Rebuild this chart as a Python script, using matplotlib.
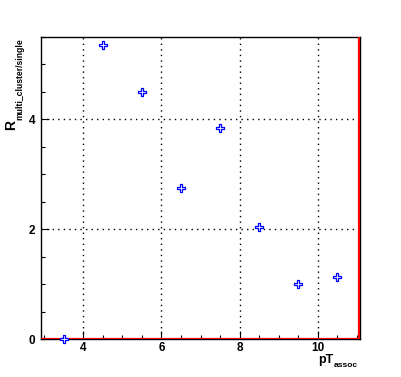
import matplotlib
matplotlib.use("Agg")
import matplotlib.pyplot as plt
from matplotlib.path import Path
from matplotlib.ticker import MultipleLocator

plt.rcParams['font.family'] = ['Liberation Sans', 'DejaVu Sans']

# data
pt_assoc = [3.5, 4.5, 5.5, 6.5, 7.5, 8.5, 9.5, 10.5]
ratio = [0.0, 5.36, 4.49, 2.75, 3.85, 2.04, 1.00, 1.13]
x_ticks = [4, 6, 8, 10]
y_ticks = [0, 2, 4]

a = 0.34
verts = [(-a, 1), (a, 1), (a, a), (1, a), (1, -a), (a, -a), (a, -1), (-a, -1),
         (-a, -a), (-1, -a), (-1, a), (-a, a), (-a, 1)]
codes = [Path.MOVETO] + [Path.LINETO] * 11 + [Path.CLOSEPOLY]
open_cross = Path(verts, codes)

W, H = 401, 377
fig = plt.figure(figsize=(W / 100, H / 100), dpi=100)
ax = fig.add_axes([41 / W, 38 / H, 319 / W, 302 / H])

ax.set_xlim(2.92, 11.08)
ax.set_ylim(0, 5.5)

ax.axhline(0, color='red', lw=1.6, zorder=3)
ax.axvline(11.05, color='red', lw=1.6, zorder=3)

ax.plot(pt_assoc, ratio, linestyle='none', marker=open_cross, markersize=6.3,
        markerfacecolor='white', markeredgecolor='blue', markeredgewidth=0.9,
        zorder=5, clip_on=False)

ax.set_xticks(x_ticks)
ax.set_yticks(y_ticks)
ax.xaxis.set_minor_locator(MultipleLocator(0.5))
ax.yaxis.set_minor_locator(MultipleLocator(0.5))
ax.grid(True, which='major', color='black', linestyle=(0, (1, 3)), lw=1.0)
ax.tick_params(which='major', direction='in', length=6, width=0.8, labelsize=8.5)
ax.tick_params(axis='x', which='major', pad=2.5)
ax.tick_params(axis='y', which='major', pad=4)
ax.tick_params(which='minor', direction='in', length=3, width=0.8)
for lbl in ax.get_xticklabels() + ax.get_yticklabels():
    lbl.set_fontweight('bold')
for s in ax.spines.values():
    s.set_linewidth(1.0)

# x label: pT_assoc
fig.text(333 / W, 1 - 363 / H, 'pT', ha='right', va='baseline', fontsize=9,
         fontweight='bold')
fig.text(358 / W, 1 - 367 / H, 'assoc', ha='right', va='baseline', fontsize=6,
         fontweight='bold')

# y label: R_multi_cluster/single
fig.text(15 / W, 1 - 130 / H, 'R', ha='left', va='baseline', fontsize=10,
         fontweight='bold', rotation=90, rotation_mode='anchor')
fig.text(22 / W, 1 - 120 / H, 'multi_cluster/single', ha='left', va='baseline',
         fontsize=6.2, fontweight='bold', rotation=90, rotation_mode='anchor')

fig.savefig('out.png', dpi=100)
